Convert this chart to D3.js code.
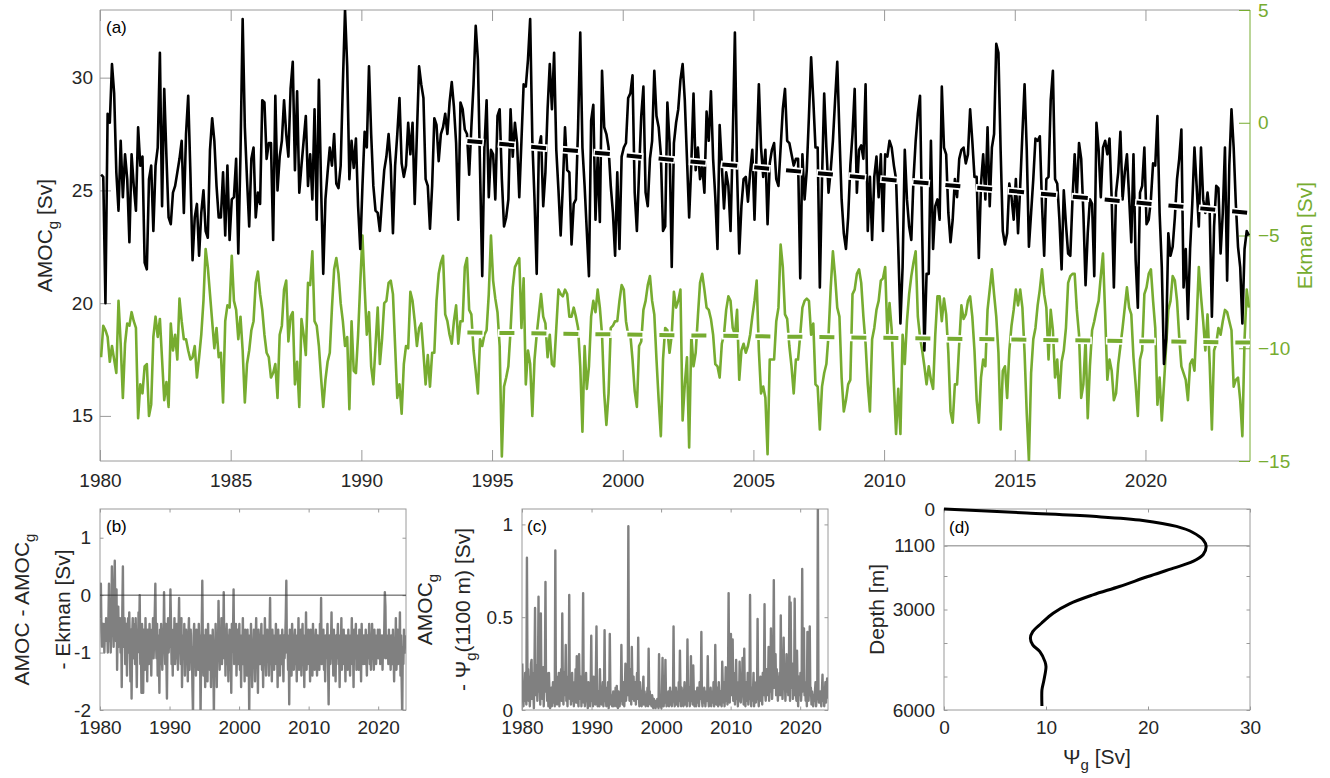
<!DOCTYPE html>
<html>
<head>
<meta charset="utf-8">
<script src="https://cdn.jsdelivr.net/npm/d3@7"></script>
<style>
body { margin: 0; background: #fff; }
text { white-space: pre; }
</style>
</head>
<body>
<div id="chart"></div>
<script>
var FONT = '"Liberation Sans", Arial, Helvetica, sans-serif'
var green = "#77AC30"
var grey = "#808080"
var frameCol = "#9a9a9a"
var textCol = "#262626"

// ---- data (monthly, Jan 1980 - Dec 2023) ----
var amocG = [
25.7,25.6,20.0,28.4,28.0,30.6,29.3,25.8,24.1,27.2,24.7,26.6,25.5,22.7,26.6,25.2,24.1,27.8,26.1,26.5,
21.8,21.5,25.5,26.1,23.2,26.1,26.9,31.1,24.3,29.5,26.5,23.8,23.5,24.9,25.2,25.8,26.4,27.2,24.0,27.5,
29.2,25.8,21.9,23.8,24.4,22.1,24.0,25.0,23.2,22.9,26.8,28.2,27.2,25.2,23.8,23.8,25.8,23.0,26.1,22.8,
24.6,24.7,26.4,22.2,26.6,32.6,27.8,25.5,23.4,26.4,26.9,23.8,24.9,24.4,29.0,28.9,26.4,27.1,27.1,22.8,
29.2,25.0,26.5,27.2,29.0,27.5,26.5,29.5,30.7,
25.9,29.4,24.9,26.1,27.2,28.3,25.2,26.6,24.6,28.6,23.7,29.9,25.2,21.3,24.6,25.8,26.9,26.1,27.5,25.3,
25.1,26.1,29.7,33.0,30.5,25.5,27.2,26.0,27.3,24.3,22.4,25.2,27.6,26.9,30.5,27.5,25.2,24.1,24.0,23.2,
24.6,25.9,26.5,27.5,26.1,23.1,26.1,27.5,29.1,26.2,25.6,26.1,28.0,26.6,28.0,24.4,27.5,30.5,29.7,29.1,
25.5,25.2,23.3,25.2,28.2,27.9,26.3,27.5,27.8,28.4,27.5,28.9,29.8,28.7,27.1,23.7,28.9,28.6,27.7,27.5,
25.7,27.8,29.7,32.3,30.8,25.9,21.2,
26.9,29.0,24.7,26.8,26.6,24.6,28.3,28.6,25.5,23.4,23.8,24.6,28.6,26.5,28.0,27.1,24.7,27.2,29.7,29.6,
30.8,32.6,27.2,24.6,21.3,26.9,27.4,24.3,25.8,28.6,30.6,28.6,31.1,26.8,25.0,23.0,25.2,27.8,25.9,25.8,
22.6,24.4,24.6,27.8,32.0,26.9,25.2,23.2,21.2,28.1,28.8,23.7,26.5,23.6,30.3,27.8,27.5,26.9,25.2,24.0,
22.1,25.8,22.4,26.5,26.9,27.1,29.1,29.3,30.1,24.9,23.2,25.8,28.3,29.6,24.9,24.3,26.4,27.2,30.3,28.3,
27.8,26.6,23.2,23.4,28.9,27.1,21.6,27.1,28.0,28.6,29.9,
30.6,29.0,26.4,23.8,26.2,29.3,25.9,26.9,25.5,26.1,24.9,28.5,27.2,29.4,26.4,24.7,22.4,27.9,26.1,24.2,
25.8,25.2,23.2,27.2,32.0,25.8,22.2,24.3,25.5,25.6,24.5,25.8,26.8,23.7,26.8,29.7,26.9,25.6,26.8,23.5,
26.2,26.8,27.1,25.5,25.2,26.9,28.6,29.5,27.2,27.1,26.6,26.1,26.4,26.4,21.1,26.6,24.6,25.9,28.3,30.9,
29.0,26.9,26.9,20.7,25.5,29.3,26.9,24.9,25.9,27.2,29.0,30.7,27.5,24.6,23.1,22.4,23.8,26.1,27.5,29.5,
24.9,26.8,27.0,26.4,29.7,23.2,25.6,22.8,25.6,
26.5,24.7,26.6,23.2,26.6,26.5,27.2,26.9,26.1,25.5,22.5,19.1,21.6,26.8,24.6,23.4,22.8,25.5,27.2,28.4,
29.2,23.1,17.9,21.3,21.3,27.2,22.4,24.3,24.6,23.7,29.6,26.9,26.6,24.0,22.7,23.7,25.5,24.7,26.4,26.8,
26.9,26.2,26.6,28.6,27.2,25.6,25.6,22.0,25.3,26.6,24.6,27.8,24.3,26.9,27.5,31.5,31.1,26.8,23.2,22.6,
23.1,25.3,24.7,23.7,25.5,23.1,25.2,27.5,29.7,26.8,22.5,24.0,25.5,27.3,27.2,27.4,24.4,22.1,25.5,25.6,
29.0,30.3,25.5,25.3,23.7,21.5,25.0,23.5,22.2,22.1,24.6,
26.6,24.7,27.1,26.4,24.0,20.8,23.1,24.6,24.4,21.2,28.0,26.8,24.7,26.9,27.2,26.6,27.3,24.6,20.7,24.9,
25.8,27.6,24.6,25.8,26.6,24.7,22.7,26.6,21.9,19.8,24.9,25.2,26.9,23.5,23.7,24.6,26.2,26.1,28.3,24.0,
21.6,17.3,18.4,23.1,22.1,22.5,23.8,25.5,26.4,27.7,20.7,22.4,19.3,22.4,24.4,26.9,25.2,23.4,26.9,24.6,
24.0,24.9,24.0,19.4,23.4,25.2,25.1,22.2,24.0,26.9,21.0,26.1,28.6,26.9,24.4,22.5,21.6,19.1,22.4,23.2,
23.0
]

var ekman = [
-10.4,-9.0,-9.2,-9.5,-10.6,-9.9,-10.5,-11.1,-7.9,-9.8,-12.2,-9.8,-8.9,-9.0,-8.4,-8.8,-9.1,-13.1,-11.6,-12.0,
-10.8,-10.7,-13.0,-12.5,-9.5,-8.6,-9.5,-8.7,-10.5,-12.3,-11.5,-12.6,-8.9,-10.1,-9.4,-10.5,-7.8,-8.8,-9.6,-9.6,
-10.1,-10.5,-10.4,-9.9,-11.3,-10.4,-9.4,-7.9,-5.6,-6.4,-7.6,-8.8,-10.0,-9.1,-10.4,-10.2,-12.4,-8.8,-8.1,-8.2,
-5.9,-7.9,-8.3,-9.6,-8.6,-10.1,-12.4,-10.7,-10.1,-9.2,-8.8,-7.1,-6.6,-7.6,-8.3,-9.4,-10.2,-10.4,-11.3,-11.1,
-10.7,-12.2,-9.4,-9.0,-7.4,-7.0,-9.7,-8.6,-8.4,
-11.6,-10.6,-12.6,-8.7,-9.4,-10.3,-7.1,-7.2,-5.7,-8.8,-9.0,-9.9,-11.3,-12.6,-11.4,-10.6,-10.2,-8.2,-6.5,-6.0,
-6.7,-8.0,-8.8,-9.9,-9.5,-12.7,-8.8,-11.0,-11.1,-9.4,-7.1,-5.0,-7.3,-9.4,-8.4,-10.8,-11.6,-9.9,-8.2,-10.7,
-9.6,-8.0,-7.9,-7.1,-7.0,-7.6,-9.9,-12.2,-11.6,-12.9,-10.7,-9.9,-10.0,-7.5,-7.9,-8.8,-9.9,-9.1,-8.9,-10.2,
-11.6,-10.3,-11.7,-10.2,-10.2,-7.9,-6.7,-6.2,-5.9,-8.5,-8.8,-9.4,-9.8,-8.8,-8.1,-9.8,-8.8,-8.8,-6.4,-6.0,
-8.3,-8.5,-10.1,-11.0,-12.0,-9.6,-9.9,
-9.4,-9.2,-7.6,-5.0,-7.0,-7.8,-8.4,-9.9,-14.8,-11.7,-11.3,-10.8,-9.2,-7.3,-6.4,-6.2,-6.0,-9.1,-6.9,-11.6,
-10.1,-10.7,-13.0,-10.5,-9.4,-8.5,-7.6,-8.6,-8.9,-10.4,-9.4,-10.7,-10.8,-9.1,-7.4,-7.6,-7.7,-7.4,-7.6,-8.6,
-8.6,-8.2,-8.6,-9.1,-10.8,-13.7,-9.9,-11.8,-10.8,-8.6,-7.9,-8.4,-7.4,-8.2,-9.4,-12.0,-13.4,-12.0,-9.1,-9.0,
-8.8,-8.8,-7.9,-7.2,-7.4,-8.8,-9.4,-9.4,-10.5,-11.9,-12.6,-9.9,-9.7,-8.3,-7.9,-7.2,-6.8,-7.9,-8.5,-10.5,
-12.3,-13.9,-10.5,-9.1,-9.2,-10.2,-9.4,-7.5,-8.2,-7.9,-7.4,
-13.2,-11.6,-10.4,-14.4,-9.4,-10.8,-10.2,-8.6,-7.1,-6.7,-7.4,-8.2,-8.3,-8.7,-9.4,-10.7,-10.8,-11.3,-9.8,-9.4,
-8.3,-7.7,-7.9,-9.1,-9.4,-8.3,-11.4,-10.1,-9.8,-10.2,-9.9,-9.4,-8.6,-7.9,-7.0,-10.1,-12.0,-11.7,-12.2,-14.7,
-10.5,-10.5,-10.5,-8.8,-8.2,-5.4,-6.4,-8.5,-8.7,-9.9,-10.8,-12.0,-10.5,-10.5,-9.4,-8.2,-7.9,-7.8,-7.9,-9.4,
-8.9,-11.6,-11.7,-13.6,-11.7,-11.1,-10.7,-9.4,-7.3,-5.7,-6.8,-8.2,-8.6,-11.3,-12.8,-12.3,-11.6,-11.4,-7.6,-7.4,
-6.7,-6.5,-7.1,-8.6,-9.8,-11.6,-12.8,-9.6,-9.1,
-8.3,-7.9,-7.0,-6.9,-6.4,-9.4,-8.0,-9.2,-11.6,-13.8,-11.8,-13.8,-9.4,-10.7,-8.8,-7.6,-6.8,-6.2,-5.7,-8.6,
-9.5,-10.1,-10.8,-11.6,-10.8,-11.4,-11.8,-9.4,-7.7,-7.7,-8.8,-7.8,-8.5,-10.2,-12.8,-13.3,-11.6,-11.6,-9.8,-8.1,
-8.7,-8.5,-7.9,-7.7,-8.6,-10.1,-12.3,-13.3,-11.3,-10.5,-10.8,-8.3,-7.4,-6.5,-7.6,-8.6,-10.2,-13.6,-11.0,-10.8,
-12.2,-10.1,-9.0,-8.3,-7.4,-8.1,-7.4,-8.2,-10.2,-12.9,-15.0,-11.1,-9.6,-9.1,-8.1,-7.4,-6.5,-7.6,-8.2,-10.5,
-8.3,-9.2,-11.3,-10.5,-12.2,-10.6,-10.1,-9.1,-7.1,-6.8,-6.7,
-6.7,-8.3,-9.4,-12.2,-11.6,-9.6,-13.1,-10.8,-9.2,-8.8,-8.3,-7.9,-6.8,-5.8,-8.5,-11.4,-10.5,-11.0,-12.3,-12.0,
-10.7,-9.9,-9.1,-8.2,-7.3,-8.2,-8.5,-10.4,-11.6,-13.0,-10.5,-10.1,-7.6,-7.3,-6.7,-6.5,-7.9,-9.1,-12.5,-11.3,
-13.2,-11.6,-9.9,-8.3,-7.9,-6.8,-7.0,-7.9,-9.5,-10.8,-11.1,-11.4,-12.3,-10.7,-10.5,-11.0,-8.8,-6.4,-7.7,-8.8,
-10.1,-8.5,-10.7,-13.6,-10.1,-9.8,-9.1,-9.4,-8.8,-8.3,-8.4,-8.8,-9.2,-11.7,-11.4,-11.3,-12.3,-13.9,-9.6,-7.4,
-8.2
]

// AMOC - AMOC_g - Ekman, one row per year
var residual = [
-0.4,0.2,-0.6,-0.9,-0.5,-0.7,-0.5,-1.0,-0.6,-0.8,-0.4,-0.7,
-0.6,-1.0,-0.4,0.2,-0.8,-0.3,-1.0,-0.5,0.5,-0.7,-0.2,-0.9,
0.1,0.6,-0.4,-0.8,0.1,-1.3,-0.5,-0.2,-0.9,-0.6,-0.4,-1.0,
-0.5,-1.6,-0.3,0.5,-0.9,-0.6,-0.4,-1.2,-0.7,-0.5,-1.4,-0.6,
-0.4,-1.0,-0.3,-0.9,-1.5,-0.6,-1.8,-0.7,-0.4,-1.1,-0.8,-0.5,
-1.2,-0.4,-0.9,-1.6,-0.6,-1.0,-0.3,-0.8,0.0,-1.2,-0.7,-1.7,
-0.5,-1.0,-1.7,-0.6,-0.8,-1.3,-0.4,-1.0,-0.7,-1.5,-0.6,-0.9,
-1.2,-0.5,-1.0,-0.8,-1.4,-0.6,-0.9,-0.4,-1.1,-0.7,-0.3,0.2,
-0.8,-1.1,-0.5,-1.4,-0.7,-1.0,-1.7,-0.6,-1.2,-0.5,-0.9,-1.3,
-0.6,-1.0,0.05,-0.8,-1.2,-0.5,-1.1,-1.8,-0.7,-0.4,-1.0,-0.6,
-0.9,0.1,-0.5,-1.2,-0.8,-1.4,-0.6,-1.0,-0.4,-1.2,-0.7,-1.1,
-0.5,-0.9,-1.3,-0.6,-0.05,-1.0,-0.8,-1.2,-0.4,-1.6,-0.7,-0.9,
-1.1,-0.5,-1.4,-0.8,-0.6,-1.2,-0.9,-1.5,-0.7,-0.4,-1.3,-0.8,
-0.6,-1.1,-0.9,-1.6,-2.1,-0.7,-0.5,-1.2,-0.8,-1.4,-0.6,-1.0,
-0.8,-1.3,-0.5,-1.0,-0.7,-2.1,-1.1,-0.6,0.25,-0.9,-1.4,-0.7,
-1.0,-1.6,-0.6,-1.2,-0.9,-1.5,-0.5,-1.1,-0.8,-1.3,-0.7,-1.6,
-0.9,-1.4,-0.6,-1.0,-2.1,-0.8,-1.2,-0.5,-1.0,-1.6,-0.7,-1.1,
-0.1,-0.9,-1.3,-0.6,-1.0,-0.4,-1.2,-0.7,-0.9,0.05,-1.1,-0.6,
-1.4,-0.8,-0.5,-1.2,-0.7,-1.5,-0.9,-0.6,-1.3,-0.8,-1.7,-0.5,
-1.0,-0.7,0.1,-1.2,-0.8,-1.1,-0.5,-1.4,-0.9,-0.6,-1.2,-0.8,
-0.5,-1.3,-0.9,-1.6,-0.7,-1.0,-0.4,-1.2,-0.8,-1.5,-0.6,-1.0,
-0.8,-1.4,-0.6,-1.1,-0.9,-2.1,-0.7,-1.3,-0.5,-1.0,-1.6,-0.8,
-1.1,-0.6,-1.0,-1.5,-0.8,-0.4,-1.2,-0.9,-1.7,-0.6,-1.0,-0.7,
-1.2,-0.8,-0.5,-1.3,-0.9,-1.6,-0.7,-1.1,-0.4,-1.0,-1.4,-0.8,
-0.6,-1.1,-0.9,-1.4,-0.7,-0.05,-1.2,-0.8,-1.5,-0.6,-1.0,-0.9,
-1.3,-0.7,-1.0,-0.5,-1.2,-0.9,-1.6,-0.6,-1.1,-0.8,-1.4,-0.7,
-0.9,-1.2,-0.6,-1.0,-1.5,-0.7,-1.1,-0.8,-0.4,0.25,-1.0,-0.7,
-1.3,-0.8,-1.9,-0.6,-1.1,-0.9,-1.4,-0.5,-1.0,-0.7,-1.3,-0.8,
-0.6,-1.2,-0.9,-1.5,-0.7,-1.0,-0.4,-1.3,-0.8,-1.1,-0.6,-1.4,
-0.9,-0.5,-1.2,-0.8,-1.6,-0.7,-1.0,-0.3,-1.3,-0.8,-1.1,-0.6,
-1.2,-0.8,-1.5,-0.6,-1.0,-0.9,-1.4,-0.5,-1.1,-0.7,-1.3,-0.8,
-0.6,-1.0,-1.4,-0.7,-1.1,-0.8,-1.3,-0.5,-0.9,-0.05,-1.2,-0.7,
-1.0,-0.6,-1.3,-0.8,-1.5,-0.7,-1.1,-0.9,-0.5,-1.2,-1.9,-0.8,
-0.7,-1.2,-0.9,-0.3,-1.1,-0.8,-1.4,-0.6,-1.0,-0.9,-1.5,-0.7,
-1.1,-0.8,-0.5,-1.2,-0.9,-1.6,-0.7,-1.0,-0.4,-1.3,-0.8,-1.1,
-0.6,-1.2,-0.9,-1.5,-0.7,-1.0,-0.8,-1.3,-0.6,-1.1,-0.9,-1.4,
-0.7,-1.0,-0.4,-1.2,-0.8,-1.6,-0.6,-1.1,-0.9,-0.5,-1.3,-0.8,
-1.0,-0.7,-1.3,-0.6,-1.1,-0.9,-1.5,-0.5,-1.0,-0.8,-1.2,-0.7,
-0.9,-1.2,-0.6,-1.0,-1.4,-0.7,-1.1,-0.8,-0.5,-1.2,-0.9,-1.3,
-0.8,-0.5,-1.1,-0.9,-1.3,-0.6,-1.0,-0.8,-1.2,-0.7,-1.0,-0.6,
-1.1,-0.8,-0.6,-1.2,-0.9,-1.0,-0.7,-1.3,-0.8,-1.1,-0.6,0.05,
-0.2,-1.1,-0.7,-1.0,-0.8,-1.2,-0.6,-1.0,-0.9,-1.3,-0.7,-0.9,
-1.2,-0.6,-1.0,-1.5,-0.8,-1.1,-0.4,-1.3,-0.9,-0.6,-1.2,-0.8,
-1.0,-0.3,-1.4,-0.7,-1.5,-2.1,-0.9,-1.2,-0.6,-1.0,-0.8,-0.7
]

// AMOC_g - Psi_g(1100 m), one row per year
var psiGap = [
0.25,0.08,0.02,0.15,0.05,0.2,0.1,0.03,0.82,0.12,0.22,0.05,
0.18,0.02,0.1,0.25,0.27,0.06,0.2,0.12,0.01,0.22,0.55,0.08,
0.15,0.24,0.05,0.18,0.61,0.1,0.22,0.03,0.52,0.14,0.2,0.06,
0.23,0.02,0.12,0.18,0.69,0.1,0.2,0.05,0.15,0.02,0.2,0.08,
0.01,0.05,0.12,0.02,0.08,0.15,0.04,0.1,0.02,0.86,0.06,0.12,
0.03,0.18,0.08,0.2,0.02,0.15,0.1,0.22,0.05,0.52,0.12,0.03,
0.2,0.08,0.15,0.35,0.05,0.12,0.02,0.18,0.1,0.62,0.06,0.15,
0.03,0.12,0.2,0.05,0.1,0.02,0.15,0.08,0.22,0.04,0.29,0.1,
0.05,0.02,0.3,0.12,0.06,0.18,0.02,0.1,0.2,0.63,0.04,0.12,
0.02,0.08,0.2,0.05,0.1,0.01,0.15,0.04,0.08,0.02,0.12,0.4,
0.05,0.1,0.02,0.18,0.06,0.12,0.03,0.2,0.45,0.08,0.02,0.1,
0.06,0.02,0.22,0.05,0.12,0.03,0.08,0.15,0.02,0.1,0.43,0.05,
0.08,0.02,0.12,0.05,0.15,0.01,0.06,0.41,0.1,0.03,0.08,0.02,
0.05,0.1,0.02,0.08,0.04,0.12,0.02,0.13,0.06,0.01,0.1,0.04,
0.02,0.08,0.05,0.35,0.1,0.03,0.15,0.06,0.02,0.12,0.25,0.05,
0.1,0.2,0.08,0.99,0.15,0.05,0.22,0.1,0.03,0.34,0.12,0.06,
0.18,0.05,0.1,0.15,0.03,0.12,0.2,0.06,0.39,0.1,0.02,0.15,
0.05,0.1,0.02,0.08,0.12,0.18,0.03,0.1,0.06,0.02,0.08,0.05,
0.12,0.02,0.33,0.06,0.1,0.03,0.08,0.02,0.08,0.05,0.01,0.06,
0.02,0.05,0.01,0.04,0.02,0.06,0.03,0.01,0.3,0.05,0.02,0.04,
0.01,0.08,0.28,0.05,0.02,0.1,0.04,0.27,0.06,0.02,0.08,0.03,
0.1,0.02,0.06,0.12,0.03,0.08,0.02,0.1,0.05,0.45,0.06,0.02,
0.08,0.12,0.03,0.1,0.06,0.02,0.15,0.05,0.32,0.08,0.02,0.12,
0.05,0.1,0.02,0.08,0.15,0.03,0.1,0.06,0.02,0.38,0.08,0.05,
0.12,0.02,0.08,0.29,0.05,0.1,0.03,0.24,0.08,0.02,0.1,0.05,
0.02,0.08,0.12,0.04,0.1,0.02,0.15,0.06,0.08,0.42,0.05,0.02,
0.1,0.04,0.12,0.06,0.02,0.08,0.1,0.05,0.29,0.06,0.02,0.08,
0.05,0.12,0.02,0.08,0.1,0.04,0.15,0.02,0.06,0.35,0.1,0.03,
0.12,0.05,0.02,0.15,0.08,0.03,0.1,0.06,0.02,0.26,0.12,0.04,
0.15,0.02,0.08,0.23,0.05,0.12,0.03,0.18,0.63,0.1,0.04,0.2,
0.41,0.08,0.15,0.38,0.05,0.2,0.1,0.03,0.12,0.27,0.06,0.15,
0.02,0.1,0.05,0.26,0.12,0.04,0.15,0.08,0.28,0.1,0.03,0.33,
0.08,0.02,0.15,0.1,0.05,0.2,0.03,0.12,0.06,0.62,0.1,0.02,
0.12,0.05,0.08,0.2,0.02,0.15,0.1,0.04,0.12,0.06,0.49,0.08,
0.02,0.1,0.15,0.18,0.05,0.12,0.03,0.2,0.08,0.15,0.57,0.1,
0.05,0.15,0.22,0.08,0.12,0.34,0.05,0.18,0.1,0.44,0.2,0.06,
0.15,0.25,0.7,0.12,0.2,0.3,0.08,0.22,0.15,0.05,0.18,0.1,
0.2,0.08,0.51,0.15,0.25,0.06,0.18,0.39,0.12,0.2,0.05,0.15,
0.3,0.1,0.22,0.08,0.18,0.61,0.05,0.58,0.2,0.12,0.25,0.06,
0.15,0.08,0.6,0.2,0.1,0.05,0.32,0.12,0.02,0.18,0.08,0.1,
0.2,0.05,0.12,0.76,0.1,0.2,0.44,0.08,0.15,0.05,0.12,0.02,
0.42,0.1,0.05,0.15,0.45,0.08,0.12,0.03,0.1,0.06,0.02,0.08,
0.05,0.1,0.15,0.02,0.08,0.06,1.09,0.1,0.04,0.08,0.1,0.05,
0.02,0.1,0.19,0.05,0.12,0.02,0.08,0.15,0.04,0.1,0.17,0.06
]

// linear trends 1994-2024
var trendYears = [1994, 2024]
var amocTrend = [27.2, 24.0]
var ekmanTrend = [-9.3, -9.75]

// mean streamfunction profile
var profDepth = [0, 120, 220, 340, 520, 700, 920, 1115, 1365, 1565, 1765, 2015, 2313, 2562, 2830, 3110, 3410, 3660, 3858, 4058, 4257, 4556, 4706, 5105, 5404, 5882]
var profPsi = [0, 8.1, 14.6, 19.5, 22.8, 24.4, 25.4, 25.7, 25.4, 24.4, 22.5, 20.0, 17.2, 14.6, 12.3, 10.7, 9.55, 8.7, 8.47, 8.7, 9.4, 9.9, 10.0, 9.8, 9.6, 9.6]
var markDepth = 1100

var yearTicks = [1980, 1985, 1990, 1995, 2000, 2005, 2010, 2015, 2020]
var decadeTicks = [1980, 1990, 2000, 2010, 2020]

function monthTime(i) { return 1980 + (i + 0.5) / 12 }

var svg = d3.select("#chart").append("svg").attr("width", 1330).attr("height", 778)
    .style("font-family", FONT)

function styleAxis(g, lineCol, txtCol) {
    g.attr("font-family", FONT).attr("font-size", 19)
    g.select(".domain").remove()
    g.selectAll("line").attr("stroke", lineCol).attr("stroke-width", 1)
    g.selectAll("text").attr("fill", txtCol)
}

function boxAxes(x, y, xt, yt, len, xfmt, yfmt, xpad, ypad) {
    var x0 = x.range()[0], x1 = x.range()[1]
    var y0 = d3.min(y.range()), y1 = d3.max(y.range())
    svg.append("g").attr("transform", "translate(0," + y1 + ")")
        .call(d3.axisBottom(x).tickValues(xt).tickFormat(xfmt).tickSizeInner(-len).tickSizeOuter(0).tickPadding(xpad))
        .call(styleAxis, frameCol, textCol)
    svg.append("g").attr("transform", "translate(0," + y0 + ")")
        .call(d3.axisTop(x).tickValues(xt).tickFormat("").tickSizeInner(-len).tickSizeOuter(0))
        .call(styleAxis, frameCol, textCol)
    svg.append("g").attr("transform", "translate(" + x0 + ",0)")
        .call(d3.axisLeft(y).tickValues(yt).tickFormat(yfmt).tickSizeInner(-len).tickSizeOuter(0).tickPadding(ypad))
        .call(styleAxis, frameCol, textCol)
    svg.append("g").attr("transform", "translate(" + x1 + ",0)")
        .call(d3.axisRight(y).tickValues(yt).tickFormat("").tickSizeInner(-len).tickSizeOuter(0))
        .call(styleAxis, frameCol, textCol)
    svg.append("rect").attr("x", x0).attr("y", y0).attr("width", x1 - x0).attr("height", y1 - y0)
        .attr("fill", "none").attr("stroke", frameCol).attr("stroke-width", 1)
}

function clip(id, x, y) {
    var x0 = x.range()[0], x1 = x.range()[1]
    var y0 = d3.min(y.range()), y1 = d3.max(y.range())
    svg.append("clipPath").attr("id", id).append("rect")
        .attr("x", x0).attr("y", y0).attr("width", x1 - x0).attr("height", y1 - y0)
    return "url(#" + id + ")"
}

// label with optional subscripts: parts = [[text, isSub], ...]
function addLabel(x, y, rot, parts, color) {
    var t = svg.append("text")
        .attr("transform", "translate(" + x + "," + y + ")" + (rot ? " rotate(-90)" : ""))
        .attr("text-anchor", "middle").attr("fill", color || textCol)
        .attr("font-size", 21)
    var down = false
    parts.forEach(function(p) {
        var ts = t.append("tspan").text(p[0])
        if (p[1]) { ts.attr("font-size", 15).attr("dy", down ? 0 : 6); down = true }
        else if (down) { ts.attr("dy", -6); down = false }
    })
}

function panelTag(x, y, s) {
    svg.append("text").attr("x", x).attr("y", y).attr("font-size", 17).attr("fill", "#000").text(s)
}

// ---------- (a) ----------
var xa = d3.scaleLinear().domain([1980, 2024]).range([100, 1250])
var ya = d3.scaleLinear().domain([13, 33]).range([461, 10])
var yr = d3.scaleLinear().domain([-15, 5]).range([461, 10])

svg.append("g").attr("transform", "translate(0,461)")
    .call(d3.axisBottom(xa).tickValues(yearTicks).tickFormat(function(d) { return d }).tickSizeInner(-11).tickSizeOuter(0).tickPadding(13))
    .call(styleAxis, frameCol, textCol)
svg.append("g").attr("transform", "translate(0,10)")
    .call(d3.axisTop(xa).tickValues(yearTicks).tickFormat("").tickSizeInner(-11).tickSizeOuter(0))
    .call(styleAxis, frameCol, textCol)
svg.append("g").attr("transform", "translate(100,0)")
    .call(d3.axisLeft(ya).tickValues([15, 20, 25, 30]).tickSizeInner(-11).tickSizeOuter(0).tickPadding(7))
    .call(styleAxis, frameCol, textCol)
svg.append("path").attr("d", "M1250,10H100V461H1250").attr("fill", "none").attr("stroke", frameCol)
svg.append("g").attr("transform", "translate(1250,0)")
    .call(d3.axisRight(yr).tickValues([-15, -10, -5, 0, 5]).tickSizeInner(-11).tickSizeOuter(0).tickPadding(8))
    .call(styleAxis, green, green)
svg.append("line").attr("x1", 1250).attr("x2", 1250).attr("y1", 10).attr("y2", 461).attr("stroke", green)

var clipA = clip("clipA", xa, ya)
var gA = svg.append("g").attr("clip-path", clipA)
gA.append("path").datum(ekman)
    .attr("d", d3.line().x(function(d, i) { return xa(monthTime(i)) }).y(function(d) { return yr(d) }))
    .attr("fill", "none").attr("stroke", green).attr("stroke-width", 2.6).attr("stroke-linejoin", "round")
gA.append("path").datum(amocG)
    .attr("d", d3.line().x(function(d, i) { return xa(monthTime(i)) }).y(function(d) { return ya(d) }))
    .attr("fill", "none").attr("stroke", "#000").attr("stroke-width", 2.6).attr("stroke-linejoin", "round")

function trend(vals, yScale, col) {
    var line = d3.line().x(function(d, i) { return xa(trendYears[i]) }).y(function(d) { return yScale(d) })
    gA.append("path").datum(vals).attr("d", line).attr("fill", "none")
        .attr("stroke", "#fff").attr("stroke-width", 7.5).attr("stroke-dasharray", "18,14")
    gA.append("path").datum(vals).attr("d", line).attr("fill", "none")
        .attr("stroke", col).attr("stroke-width", 4).attr("stroke-dasharray", "15,17").attr("stroke-dashoffset", -1.5)
}
trend(amocTrend, ya, "#000")
trend(ekmanTrend, yr, green)

panelTag(106, 33, "(a)")
addLabel(52, 235.5, true, [["AMOC", false], ["g", true], [" [Sv]", false]])
addLabel(1312, 235.5, true, [["Ekman [Sv]", false]], green)

// ---------- (b) ----------
var xb = d3.scaleLinear().domain([1980, 2024]).range([100, 406])
var yb = d3.scaleLinear().domain([-2, 1.5]).range([710, 509])
boxAxes(xb, yb, decadeTicks, [-2, -1, 0, 1], 3.5, function(d) { return d }, function(d) { return d }, 11, 9)
svg.append("path").datum(residual).attr("clip-path", clip("clipB", xb, yb))
    .attr("d", d3.line().x(function(d, i) { return xb(monthTime(i)) }).y(function(d) { return yb(d) }))
    .attr("fill", "none").attr("stroke", grey).attr("stroke-width", 2.4).attr("stroke-linejoin", "round")
svg.append("line").attr("x1", xb(1980)).attr("x2", xb(2024)).attr("y1", yb(0)).attr("y2", yb(0))
    .attr("stroke", "#333").attr("stroke-width", 0.9)
panelTag(106, 532, "(b)")
addLabel(29, 609.5, true, [["AMOC - AMOC", false], ["g", true]])
addLabel(70, 609.5, true, [["- Ekman [Sv]", false]])

// ---------- (c) ----------
var xc = d3.scaleLinear().domain([1980, 2024]).range([522, 828])
var yc = d3.scaleLinear().domain([0, 1.083]).range([710, 509])
boxAxes(xc, yc, decadeTicks, [0, 0.5, 1], 3.5, function(d) { return d }, function(d) { return d }, 11, 9)
svg.append("path").datum(psiGap).attr("clip-path", clip("clipC", xc, yc))
    .attr("d", d3.line().x(function(d, i) { return xc(monthTime(i)) }).y(function(d) { return yc(d) }))
    .attr("fill", "none").attr("stroke", grey).attr("stroke-width", 2.4).attr("stroke-linejoin", "round")
panelTag(527, 532, "(c)")
addLabel(432, 609.5, true, [["AMOC", false], ["g", true]])
addLabel(470, 609.5, true, [["- \u03A8", false], ["g", true], ["(1100 m) [Sv]", false]])

// ---------- (d) ----------
var xd = d3.scaleLinear().domain([0, 30]).range([944, 1250])
var yd = d3.scaleLinear().domain([0, 6000]).range([509, 710])
var depthLabels = { 0: "0", 1100: "1100", 3000: "3000", 6000: "6000" }
boxAxes(xd, yd, [0, 10, 20, 30], [0, 1100, 2000, 3000, 4000, 5000, 6000], 3.5,
    function(d) { return d }, function(d) { return depthLabels[d] || "" }, 11, 9)
svg.append("line").attr("x1", xd(0)).attr("x2", xd(30)).attr("y1", yd(markDepth)).attr("y2", yd(markDepth))
    .attr("stroke", "#aaaaaa").attr("stroke-width", 1.5)
svg.append("path").datum(profDepth)
    .attr("d", d3.line().curve(d3.curveCatmullRom).x(function(d, i) { return xd(profPsi[i]) }).y(function(d) { return yd(d) }))
    .attr("fill", "none").attr("stroke", "#000").attr("stroke-width", 3)
panelTag(949, 533, "(d)")
addLabel(884, 609.5, true, [["Depth [m]", false]])
addLabel(1097, 764, false, [["\u03A8", false], ["g", true], [" [Sv]", false]])
</script>
</body>
</html>
